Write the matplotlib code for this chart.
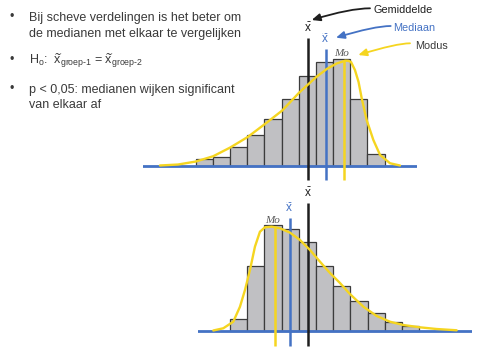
import numpy as np
import matplotlib.pyplot as plt

plt.rcParams['font.family'] = ['Liberation Sans', 'DejaVu Sans']
plt.rcParams['mathtext.fontset'] = 'custom'
plt.rcParams['mathtext.rm'] = 'Liberation Sans'
plt.rcParams['mathtext.it'] = 'Liberation Sans:italic'
plt.rcParams['mathtext.bf'] = 'Liberation Sans:bold'

# ---- data (bins of width 1, counts scaled so the tallest bar = 100) ----
top_counts = [6, 8, 18, 29, 44, 63, 84, 97, 100, 63, 11]
top_curve_x = [-2.08, -1.03, 0.0, 1.02, 2.01, 3.03, 4.03, 5.04, 6.03, 7.02, 7.63,
               8.21, 8.70, 8.88, 9.04, 9.27, 9.48, 9.66, 9.95, 10.34, 10.73, 11.31, 11.89]
top_curve_y = [0.2, 1.1, 3.9, 8.9, 17.1, 27.0, 39.2, 51.9, 68.8, 83.4, 90.9,
               96.1, 98.7, 98.6, 97.5, 89.9, 78.7, 63.6, 43.0, 24.2, 10.1, 2.3, 0.2]
top_mean, top_median, top_mode = 6.52, 7.60, 8.65

bot_counts = [11, 62, 100, 97, 84, 62, 43, 28, 17, 8, 5]
bot_curve_x = [-0.97, -0.39, 0.19, 0.58, 0.87, 1.16, 1.45, 1.74, 2.03, 2.42, 2.91,
               3.49, 4.07, 4.65, 5.23, 5.81, 6.39, 6.97, 7.75, 8.52, 9.30, 10.07,
               11.04, 12.01, 13.17]
bot_curve_y = [0.3, 2.4, 8.6, 22.9, 38.7, 57.7, 79.9, 94.1, 98.3, 98.9, 97.3,
               93.2, 86.2, 76.7, 65.6, 54.9, 45.4, 34.9, 22.9, 14.1, 8.6, 5.5,
               3.3, 1.7, 0.5]
bot_mean, bot_median, bot_mode = 4.51, 3.49, 2.61

bullet_lines = [['Bij scheve verdelingen is het beter om',
                 'de medianen met elkaar te vergelijken'],
                [r'H$_\mathrm{o}$:  $\widetilde{\mathrm{x}}_{\text{groep-1}}$ = '
                 r'$\widetilde{\mathrm{x}}_{\text{groep-2}}$'],
                ['p < 0,05: medianen wijken significant',
                 'van elkaar af']]

GRAY = '#c0c0c3'
EDGE = '#3c3c3c'
BLUE = '#4472c4'
YELLOW = '#f5d520'
BLACK = '#1e1e1e'
TEXT = '#3a3a3a'

W, H = 479, 348
fig = plt.figure(figsize=(W / 100, H / 100), dpi=100)


def px_axes(left, top, right, bottom):
    return fig.add_axes([left / W, 1 - bottom / H, (right - left) / W, (bottom - top) / H])


def draw_hist(ax, counts, cx, cy, mean, median, mode, tops, low):
    ax.bar(np.arange(len(counts)), counts, width=1, align='edge', color=GRAY,
           edgecolor=EDGE, linewidth=0.9, zorder=2)
    ax.axhline(0, color=BLUE, lw=2, zorder=3)
    ax.vlines(mean, low, tops[0], color=BLACK, lw=1.8, zorder=4, clip_on=False)
    ax.vlines(median, low, tops[1], color=BLUE, lw=1.8, zorder=4, clip_on=False)
    ax.plot(cx, cy, color=YELLOW, lw=1.7, zorder=5, clip_on=False,
            solid_capstyle='round')
    ax.vlines(mode, low, tops[2], color=YELLOW, lw=1.8, zorder=5, clip_on=False)
    ax.text(mean, tops[0] + 3, r'$\bar{\mathrm{x}}$', color=BLACK, fontsize=8.5,
            ha='center', va='bottom')
    ax.text(median - 0.05, tops[1] + 3, r'$\widetilde{\mathrm{x}}$', color=BLUE,
            fontsize=8.5, ha='center', va='bottom')
    ax.text(mode - 0.15, tops[2] + 3, 'Mo', color='#555555', fontsize=8,
            family='Liberation Serif', style='italic', ha='center', va='bottom')
    ax.axis('off')


ax1 = px_axes(142.7, 20, 416.7, 190)
ax1.set_xlim(-3.085, 12.864)
ax1.set_ylim(-22.84, 136.94)
draw_hist(ax1, top_counts, top_curve_x, top_curve_y, top_mean, top_median, top_mode,
          (120.0, 109.7, 98.4), -13.4)

ax2 = px_axes(198, 185, 472, 348)
ax2.set_xlim(-1.859, 14.062)
ax2.set_ylim(-16.33, 138.46)
draw_hist(ax2, bot_counts, bot_curve_x, bot_curve_y, bot_mean, bot_median, bot_mode,
          (121.1, 106.8, 97.6), -14.4)

# bullet text on the left
row_y = [17.3, 60, 89.3]
for y, lines in zip(row_y, bullet_lines):
    fig.text(11.7 / W, 1 - y / H, '•', fontsize=9, color=TEXT, va='center', ha='center')
    for k, line in enumerate(lines):
        fig.text(29.3 / W, 1 - (y + 4 + 15.2 * k) / H, line, fontsize=9, color=TEXT,
                 va='baseline', ha='left')

# labels with arrows
labels = [('Gemiddelde', BLACK, BLACK, (374, 10), (370, 8.3), (311.7, 20)),
          ('Mediaan', BLUE, BLUE, (392.7, 28.3), (390.7, 26), (336, 37.7)),
          ('Modus', TEXT, YELLOW, (415, 46), (410, 43.3), (358.3, 55))]
for name, col, acol, tpos, start, tip in labels:
    fig.text(tpos[0] / W, 1 - tpos[1] / H, name, fontsize=7.8, color=col,
             va='center', ha='left')
    ax1.annotate('', xy=(tip[0], H - tip[1]), xycoords='figure pixels',
                 xytext=(start[0], H - start[1]), textcoords='figure pixels',
                 arrowprops=dict(arrowstyle='-|>,head_length=0.5,head_width=0.22',
                                 connectionstyle='angle3,angleA=0,angleB=17',
                                 color=acol, lw=1.3, shrinkA=0, shrinkB=0),
                 annotation_clip=False)

fig.savefig('out.png', dpi=100)
